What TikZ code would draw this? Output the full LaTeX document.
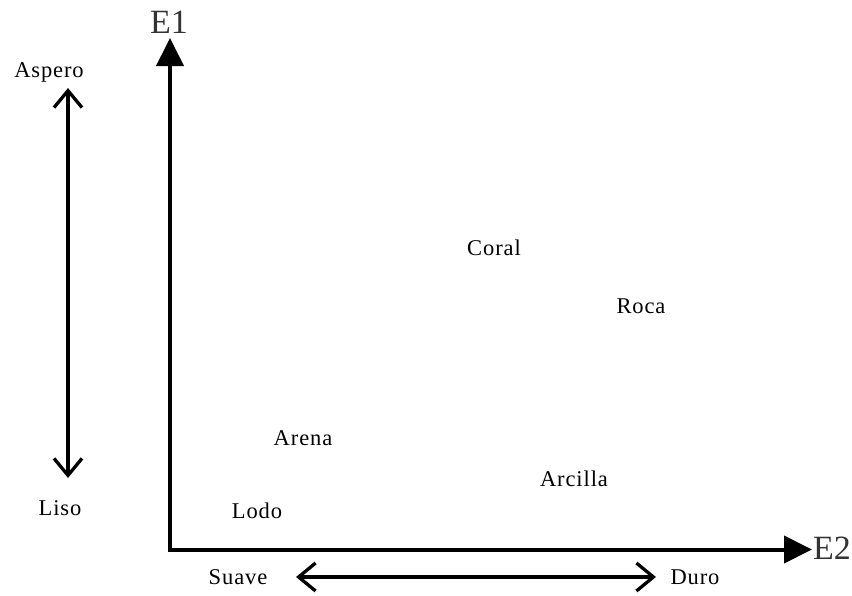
\documentclass[tikz,border=0pt]{standalone}
\usepackage{fontspec}
\setmainfont{Liberation Serif}[LetterSpace=4]
\usetikzlibrary{arrows.meta}
\begin{document}
\begin{tikzpicture}[x=1pt,y=-1pt,
  lbl/.style={font=\fontsize{22.5}{26}\selectfont, inner sep=0pt, anchor=center},
  axislbl/.style={font=\fontsize{34}{38}\selectfont\addfontfeatures{LetterSpace=0}, text=black!80, inner sep=0pt, anchor=center},
  axisline/.style={line width=4pt, -{Triangle[length=28pt,width=27pt]}},
  dbl/.style={line width=3.3pt, {Straight Barb[length=17pt,width=28pt]}-{Straight Barb[length=17pt,width=28pt]}}]
\useasboundingbox (0,0) rectangle (852,595);
% axes
\coordinate (O) at (170,549.5);
\coordinate (Ytip) at (170,38);
\coordinate (Xtip) at (812,549.5);
\draw[axisline] (170,551.5) -- (Ytip);
\draw[axisline] (168,549.5) -- (Xtip);
\node[axislbl] (E1) at (169,22) {E1};
\node[axislbl] (E2) at (832,548) {E2};
% double arrows
\coordinate (vtop) at (68,88);
\coordinate (vbot) at (68,478);
\coordinate (hleft) at (296,577);
\coordinate (hright) at (656,577);
\draw[dbl] (vtop) -- (vbot);
\draw[dbl] (hleft) -- (hright);
% scale labels
\node[lbl] (aspero) at (49,72) {Aspero};
\node[lbl] (liso) at (60,508) {Liso};
\node[lbl] (suave) at (238,577) {Suave};
\node[lbl] (duro) at (695,577) {Duro};
% points
\node[lbl] (coral) at (494,248) {Coral};
\node[lbl] (roca) at (641,306) {Roca};
\node[lbl] (arena) at (303,438) {Arena};
\node[lbl] (arcilla) at (574,479) {Arcilla};
\node[lbl] (lodo) at (257,511) {Lodo};
\end{tikzpicture}
\end{document}
